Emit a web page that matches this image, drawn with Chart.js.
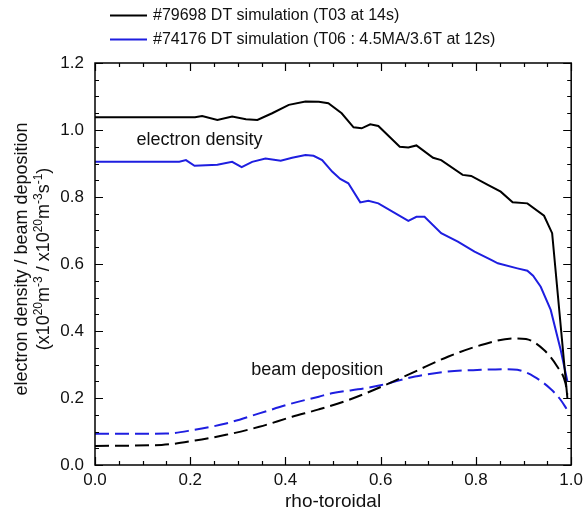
<!DOCTYPE html>
<html>
<head>
<meta charset="utf-8">
<script src="https://cdn.jsdelivr.net/npm/chart.js@4.4.1/dist/chart.umd.min.js"></script>
<style>
  html, body { margin: 0; padding: 0; background: #fff; }
  #wrap { width: 588px; height: 521px; }
</style>
</head>
<body>
<div id="wrap"><canvas id="c" width="588" height="521"></canvas></div>
<script>
// ---- data ----
const legendLabels = ['#79698 DT simulation (T03 at 14s)', '#74176 DT simulation (T06 : 4.5MA/3.6T at 12s)'];

const rhoNe79698 = [0.0, 0.21, 0.225, 0.257, 0.288, 0.317, 0.341, 0.372, 0.407, 0.442, 0.47, 0.49, 0.518, 0.543, 0.56, 0.578, 0.595, 0.640, 0.658, 0.675, 0.71, 0.727, 0.772, 0.79, 0.825, 0.852, 0.877, 0.908, 0.943, 0.96, 0.992];
const ne79698     = [1.038, 1.038, 1.042, 1.030, 1.040, 1.032, 1.030, 1.050, 1.075, 1.085, 1.084, 1.080, 1.050, 1.008, 1.005, 1.017, 1.012, 0.950, 0.948, 0.954, 0.917, 0.910, 0.866, 0.863, 0.836, 0.816, 0.784, 0.781, 0.744, 0.692, 0.20];

const rhoNe74176 = [0.0, 0.177, 0.191, 0.209, 0.257, 0.288, 0.308, 0.33, 0.358, 0.39, 0.414, 0.442, 0.459, 0.477, 0.498, 0.515, 0.532, 0.557, 0.574, 0.595, 0.658, 0.675, 0.692, 0.727, 0.762, 0.797, 0.832, 0.846, 0.887, 0.908, 0.92, 0.936, 0.957, 0.978, 0.992];
const ne74176     = [0.905, 0.905, 0.910, 0.893, 0.896, 0.905, 0.889, 0.905, 0.915, 0.908, 0.917, 0.925, 0.923, 0.910, 0.876, 0.854, 0.841, 0.784, 0.789, 0.781, 0.729, 0.741, 0.741, 0.692, 0.667, 0.637, 0.612, 0.602, 0.587, 0.580, 0.565, 0.532, 0.463, 0.343, 0.25];

const rhoBeam79698 = [0.0, 0.14, 0.21, 0.275, 0.345, 0.414, 0.47, 0.532, 0.602, 0.672, 0.741, 0.811, 0.88, 0.905, 0.943, 0.971, 0.988, 0.992];
const beam79698    = [0.057, 0.060, 0.073, 0.090, 0.114, 0.144, 0.166, 0.194, 0.234, 0.279, 0.323, 0.358, 0.378, 0.376, 0.343, 0.293, 0.244, 0.21];

const rhoBeam74176 = [0.0, 0.149, 0.205, 0.275, 0.345, 0.414, 0.47, 0.497, 0.567, 0.602, 0.672, 0.741, 0.811, 0.86, 0.887, 0.922, 0.957, 0.978, 0.992];
const beam74176    = [0.093, 0.094, 0.104, 0.124, 0.154, 0.184, 0.204, 0.214, 0.229, 0.239, 0.264, 0.279, 0.284, 0.286, 0.284, 0.264, 0.227, 0.194, 0.164];

const xTickValues = [0.0, 0.2, 0.4, 0.6, 0.8, 1.0];
const yTickValues = [0.0, 0.2, 0.4, 0.6, 0.8, 1.0, 1.2];

const xTitle = 'rho-toroidal';
const yTitleLine1 = 'electron density / beam deposition';
// second line: [text, isSuperscript]
const yTitleLine2 = [['(x10', false], ['20', true], ['m', false], ['-3', true], [' / x10', false], ['20', true], ['m', false], ['-3', true], ['s', false], ['-1', true], [')', false]];

const annotationTexts = ['electron density', 'beam deposition'];
// ---- positions / styles ----
const annotationAnchors = [{x: 0.087, y: 0.970}, {x: 0.328, y: 0.284}];
const FONT = "'Liberation Sans', Arial, sans-serif";
const BLACK = '#000000';
const BLUE = '#1e1ee0';

const pts = (xs, ys) => xs.map((v, i) => ({x: v, y: ys[i]}));

const frameTicks = {
  id: 'frameTicks',
  afterDatasetsDraw(chart) {
    const {ctx, chartArea: a, scales} = chart;
    const xs = scales.x, ys = scales.y;
    ctx.save();
    ctx.strokeStyle = '#000';
    ctx.lineWidth = 1.5;
    ctx.strokeRect(a.left, a.top, a.right - a.left, a.bottom - a.top);
    ctx.lineWidth = 1.2;
    ctx.beginPath();
    for (let i = 0; i <= 20; i++) {
      const v = i / 20;
      const L = (i % 4 === 0) ? 8 : 4;
      const px = Math.round(xs.getPixelForValue(v)) + 0.5;
      ctx.moveTo(px, a.bottom); ctx.lineTo(px, a.bottom - L);
      ctx.moveTo(px, a.top); ctx.lineTo(px, a.top + L);
    }
    for (let i = 0; i <= 24; i++) {
      const v = i / 20;
      const L = (i % 4 === 0) ? 8 : 4;
      const py = Math.round(ys.getPixelForValue(v)) + 0.5;
      ctx.moveTo(a.left, py); ctx.lineTo(a.left + L, py);
      ctx.moveTo(a.right, py); ctx.lineTo(a.right - L, py);
    }
    ctx.stroke();

    // annotations
    ctx.fillStyle = '#111';
    ctx.font = '18px ' + FONT;
    ctx.textBaseline = 'middle';
    ctx.textAlign = 'left';
    annotationTexts.forEach((t, i) => {
      const an = annotationAnchors[i];
      ctx.fillText(t, xs.getPixelForValue(an.x), ys.getPixelForValue(an.y));
    });
    ctx.restore();
  },
  afterDraw(chart) {
    const {ctx, chartArea: a} = chart;
    ctx.save();
    // legend
    ctx.font = '16px ' + FONT;
    ctx.textBaseline = 'middle';
    ctx.textAlign = 'left';
    const rows = [15, 39];
    const items = chart.data.datasets.filter(d => d.showInLegend);
    items.forEach((d, i) => {
      const y = rows[i] + 0.5;
      ctx.strokeStyle = d.borderColor;
      ctx.lineWidth = 2;
      ctx.beginPath();
      ctx.moveTo(110, y); ctx.lineTo(147, y);
      ctx.stroke();
      ctx.fillStyle = '#111';
      ctx.fillText(d.label, 153, rows[i] + 1);
    });

    // y-axis title (rotated, with superscripts)
    const cy = 259;
    ctx.fillStyle = '#111';
    ctx.translate(22, cy);
    ctx.rotate(-Math.PI / 2);
    ctx.font = '18px ' + FONT;
    ctx.textAlign = 'center';
    ctx.textBaseline = 'middle';
    ctx.fillText(yTitleLine1, 0, 0);
    // line 2
    const big = '18px ' + FONT, small = '12px ' + FONT;
    let total = 0;
    yTitleLine2.forEach(([t, sup]) => { ctx.font = sup ? small : big; total += ctx.measureText(t).width; });
    let xx = -total / 2;
    ctx.textAlign = 'left';
    ctx.textBaseline = 'alphabetic';
    const base = 21 + 6;
    yTitleLine2.forEach(([t, sup]) => {
      ctx.font = sup ? small : big;
      ctx.fillText(t, xx, sup ? base - 7 : base);
      xx += ctx.measureText(t).width;
    });
    ctx.restore();
  }
};

new Chart(document.getElementById('c'), {
  type: 'line',
  data: {
    datasets: [
      {label: legendLabels[0], showInLegend: true, data: pts(rhoNe79698, ne79698), borderColor: BLACK, borderWidth: 2, pointRadius: 0, tension: 0},
      {label: legendLabels[1], showInLegend: true, data: pts(rhoNe74176, ne74176), borderColor: BLUE, borderWidth: 2, pointRadius: 0, tension: 0},
      {label: 'beam 79698', data: pts(rhoBeam79698, beam79698), borderColor: BLACK, borderWidth: 2, borderDash: [14, 6], pointRadius: 0, cubicInterpolationMode: 'monotone'},
      {label: 'beam 74176', data: pts(rhoBeam74176, beam74176), borderColor: BLUE, borderWidth: 2, borderDash: [14, 6], pointRadius: 0, cubicInterpolationMode: 'monotone'}
    ]
  },
  options: {
    responsive: false,
    animation: false,
    devicePixelRatio: 1,
    layout: {padding: {top: 63, right: 14, left: 0, bottom: 0}},
    plugins: {legend: {display: false}, tooltip: {enabled: false}},
    scales: {
      x: {
        type: 'linear', min: 0, max: 1,
        afterBuildTicks: s => { s.ticks = xTickValues.map(v => ({value: v})); },
        afterFit: s => { s.height = 56; },
        grid: {display: false, drawTicks: false},
        border: {display: false},
        ticks: {color: '#111', font: {family: FONT, size: 17}, padding: 5, maxRotation: 0, callback: v => Number(v).toFixed(1)},
        title: {display: true, text: xTitle, color: '#111', font: {family: FONT, size: 19}, padding: {top: 0, bottom: 8}}
      },
      y: {
        type: 'linear', min: 0, max: 1.2,
        afterBuildTicks: s => { s.ticks = yTickValues.map(v => ({value: v})); },
        afterFit: s => { s.width = 95; },
        grid: {display: false, drawTicks: false},
        border: {display: false},
        ticks: {color: '#111', font: {family: FONT, size: 17}, padding: 11, callback: v => Number(v).toFixed(1)},
        title: {display: false}
      }
    }
  },
  plugins: [frameTicks]
});
</script>
</body>
</html>
